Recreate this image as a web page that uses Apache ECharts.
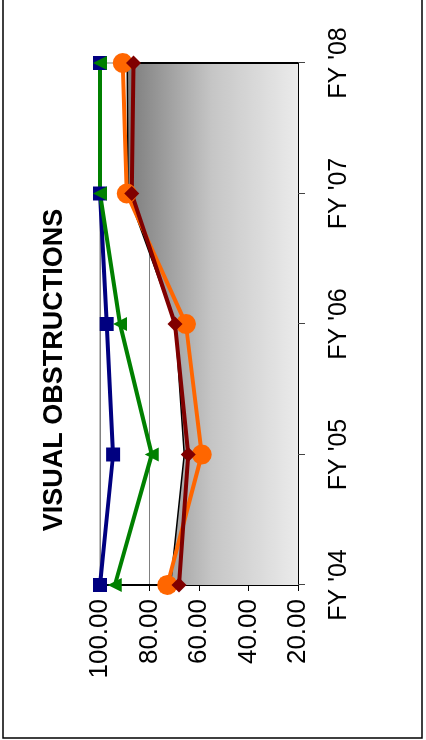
<!DOCTYPE html>
<html>
<head>
<meta charset="utf-8">
<script src="https://cdn.jsdelivr.net/npm/echarts@6/dist/echarts.min.js"></script>
<style>
  html, body { margin: 0; padding: 0; width: 426px; height: 740px; overflow: hidden; background: #fff; }
  #chart { position: absolute; left: 0; top: 740px; width: 740px; height: 426px;
           transform-origin: 0 0; transform: rotate(-90deg); }
</style>
</head>
<body>
<div id="chart"></div>
<script>
const titleText = 'VISUAL OBSTRUCTIONS';
const categories = ["FY '04", "FY '05", "FY '06", "FY '07", "FY '08"];
const areaValues   = [71.5, 66.0, 69.6, 88.7, 89.0];
const blueValues   = [100.0, 94.7, 97.3, 100.0, 100.0];
const greenValues  = [94.0, 79.1, 91.9, 100.0, 100.0];
const orangeValues = [72.8, 58.9, 65.3, 89.2, 90.8];
const brownValues  = [68.1, 64.3, 69.7, 87.2, 86.5];
const valueTicks = { min: 20, max: 100, interval: 20 };

const FONT = "'Liberation Sans', Arial, sans-serif";
const chart = echarts.init(document.getElementById('chart'), null, { renderer: 'canvas' });

const lastIdx = categories.length - 1;
const areaEdge = [[categories[lastIdx], valueTicks.min], [categories[lastIdx], areaValues[lastIdx]]];

function lineSeries(name, data, color, symbol, size) {
  return {
    name, type: 'line', data, symbol, symbolSize: size, showSymbol: true,
    lineStyle: { color, width: 4 },
    itemStyle: { color, borderColor: color, borderWidth: 0 },
    emphasis: { disabled: true }, animation: false, z: 3
  };
}

chart.setOption({
  animation: false,
  backgroundColor: '#fff',
  title: {
    text: titleText, left: 'center', top: 36,
    textStyle: { fontFamily: FONT, fontSize: 27, fontWeight: 'bold', color: '#000' }
  },
  graphic: [{
    type: 'rect', shape: { x: 2, y: 3, width: 800, height: 419 },
    style: { fill: 'none', stroke: '#000', lineWidth: 1.5 }, z: 100, silent: true
  }],
  grid: { left: 155, right: 63, top: 100, bottom: 128, show: true,
          borderColor: '#808080', borderWidth: 1, backgroundColor: 'transparent' },
  xAxis: {
    type: 'category', data: categories, boundaryGap: false,
    axisLine: { onZero: false, lineStyle: { color: '#000', width: 2 } },
    axisTick: { show: true, alignWithLabel: true, length: 7, lineStyle: { color: '#444', width: 1 } },
    axisLabel: { fontFamily: FONT, fontSize: 25, color: '#000', margin: 29 },
    splitLine: { show: false }
  },
  yAxis: {
    type: 'value', min: valueTicks.min, max: valueTicks.max, interval: valueTicks.interval,
    axisLine: { show: true, lineStyle: { color: '#000', width: 2 } },
    axisTick: { show: true, length: 6, lineStyle: { color: '#000', width: 1 } },
    axisLabel: { fontFamily: FONT, fontSize: 26, color: '#000', margin: 14,
                 formatter: v => v.toFixed(2) },
    splitLine: { show: true, lineStyle: { color: '#808080', width: 1.2 } }
  },
  series: [
    {
      name: 'area', type: 'line', data: areaValues, symbol: 'none',
      lineStyle: { color: '#000', width: 1.5 },
      areaStyle: {
        origin: 'start',
        color: new echarts.graphic.LinearGradient(0, 0, 0, 1, [
          { offset: 0, color: '#7c7c7c' },
          { offset: 0.5, color: '#c6c6c6' },
          { offset: 1, color: '#ebebeb' }
        ]),
        opacity: 1
      },
      emphasis: { disabled: true }, z: 2
    },
    {
      name: 'areaEdge', type: 'line', data: areaEdge, symbol: 'none',
      lineStyle: { color: '#000', width: 2 }, emphasis: { disabled: true }, z: 2
    },
    lineSeries('blue', blueValues, '#000080', 'rect', 14),
    lineSeries('green', greenValues, '#008000', 'triangle', 14),
    lineSeries('orange', orangeValues, '#ff6600', 'circle', 20),
    lineSeries('brown', brownValues, '#800000', 'diamond', 15)
  ]
});
</script>
</body>
</html>
